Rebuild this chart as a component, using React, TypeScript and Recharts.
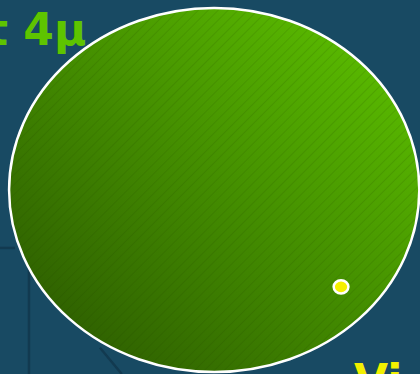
import { ScatterChart, Scatter, XAxis, YAxis, ZAxis, ReferenceLine } from "recharts";

// bubble positions on a 0-100 grid, z = relative bubble size
const bigBubble = [{ x: 51, y: 49.2, z: 100 }];
const smallBubble = [{ x: 81.2, y: 23.3, z: 0.13 }];

// faint background guide strokes
const guideSegments = [
  [{ x: 0, y: 33.7 }, { x: 3.6, y: 33.7 }],
  [{ x: 6.9, y: 0 }, { x: 6.9, y: 31 }],
  [{ x: 23.8, y: 7 }, { x: 29, y: 0 }],
];

const titleText = "t 4\u03bc";
const cornerText = "Vi";

const BG = "#184a63";
const STRETCH = 1.127;
const FONT = "'DejaVu Sans', Verdana, sans-serif";

const ellipseShape = (fill: string, strokeWidth: number) => (props: any) => {
  const { cx, cy, size } = props;
  const r = Math.sqrt(Math.max(size ?? 0, 0) / Math.PI);
  return (
    <ellipse
      cx={cx}
      cy={cy}
      rx={r * STRETCH}
      ry={r}
      fill={fill}
      stroke="#ffffff"
      strokeWidth={strokeWidth}
    />
  );
};

export default function App() {
  return (
    <div
      style={{
        position: "fixed",
        left: 0,
        top: 0,
        width: 420,
        height: 374,
        background: BG,
        overflow: "hidden",
      }}
    >
      <ScatterChart width={420} height={374} margin={{ top: 0, right: 0, bottom: 0, left: 0 }}>
        <defs>
          <linearGradient id="greenFill" x1="0" y1="1" x2="1" y2="0">
            <stop offset="0%" stopColor="#285200" />
            <stop offset="50%" stopColor="#438c00" />
            <stop offset="100%" stopColor="#60c800" />
          </linearGradient>
          <pattern id="hatch" width="7" height="7" patternUnits="userSpaceOnUse" patternTransform="rotate(45)">
            <line x1="0" y1="0" x2="0" y2="7" stroke="#1e3a00" strokeOpacity={0.18} strokeWidth={1.5} />
          </pattern>
        </defs>
        <XAxis type="number" dataKey="x" domain={[0, 100]} hide />
        <YAxis type="number" dataKey="y" domain={[0, 100]} hide />
        <ZAxis type="number" dataKey="z" domain={[0, 100]} range={[0, Math.PI * 182 * 182]} />
        {guideSegments.map((seg, i) => (
          <ReferenceLine key={i} segment={seg} stroke="#123a50" strokeWidth={2.5} ifOverflow="visible" />
        ))}
        <Scatter data={bigBubble} isAnimationActive={false} shape={ellipseShape("url(#greenFill)", 2.5)} />
        <Scatter data={bigBubble} isAnimationActive={false} shape={(p: any) => {
          const r = Math.sqrt(Math.max(p.size ?? 0, 0) / Math.PI);
          return <ellipse cx={p.cx} cy={p.cy} rx={r * STRETCH - 1.5} ry={r - 1.5} fill="url(#hatch)" />;
        }} />
        <Scatter data={smallBubble} isAnimationActive={false} shape={ellipseShape("#f5f000", 2.5)} />
      </ScatterChart>
      <svg
        width={420}
        height={374}
        style={{ position: "absolute", left: 0, top: 0, pointerEvents: "none" }}
      >
        <text x={-13} y={45} fontFamily={FONT} fontWeight="bold" fontSize={44} fill="#5ec400">
          {titleText}
        </text>
        <text x={354} y={396} fontFamily={FONT} fontWeight="bold" fontSize={44} fill="#f2f000">
          {cornerText}
        </text>
      </svg>
    </div>
  );
}
